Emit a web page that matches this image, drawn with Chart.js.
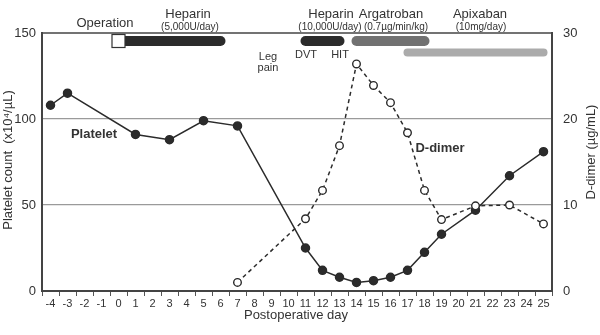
<!DOCTYPE html>
<html>
<head>
<meta charset="utf-8">
<script src="https://cdn.jsdelivr.net/npm/chart.js@4.4.1/dist/chart.umd.min.js"></script>
<style>
  html, body { margin: 0; padding: 0; background: #fff; }
  #wrap { width: 600px; height: 335px; position: relative; }
</style>
</head>
<body>
<div id="wrap"><canvas id="chart"></canvas></div>
<script>
// postoperative days on the x axis
const dayLabels = [];
for (let d = -4; d <= 25; d++) dayLabels.push(String(d));

// platelet count (x10^4/uL)
const plateletDays = [-4, -3, 1, 3, 5, 7, 11, 12, 13, 14, 15, 16, 17, 18, 19, 21, 23, 25];
const plateletValues = [108, 115, 91, 88, 99, 96, 25, 12, 8, 5, 6, 8, 12, 22.5, 33, 47, 67, 81];

// D-dimer (ug/mL)
const ddimerDays = [7, 11, 12, 13, 14, 15, 16, 17, 18, 19, 21, 23, 25];
const ddimerValues = [1, 8.4, 11.7, 16.9, 26.4, 23.9, 21.9, 18.4, 11.7, 8.3, 9.9, 10, 7.8];

// treatment periods (start day, end day)
const operationDay = 0;
const heparinLow = [0, 6];
const heparinHigh = [11, 13];
const argatroban = [14, 18];
const apixaban = [17, 25];

const leftTicks = [0, 50, 100, 150];
const rightTicks = [0, 10, 20, 30];

const FONT = '"Liberation Sans", Arial, sans-serif';
const TEXT = '#333';

function toPoints(days, vals) {
    return days.map((d, i) => ({ x: String(d), y: vals[i] }));
}

const annotations = {
    id: 'annotations',
    afterDatasetsDraw(chart) {
        const ctx = chart.ctx;
        const x = chart.scales.x;
        const area = chart.chartArea;
        const px = d => x.getPixelForValue(dayLabels.indexOf(String(d)));

        ctx.save();
        // top frame line
        ctx.strokeStyle = '#444';
        ctx.lineWidth = 1.5;
        ctx.beginPath();
        ctx.moveTo(area.left, area.top);
        ctx.lineTo(area.right, area.top);
        ctx.stroke();

        // drug bars
        function bar(range, y, w, color) {
            ctx.strokeStyle = color;
            ctx.lineWidth = w;
            ctx.lineCap = 'round';
            ctx.beginPath();
            ctx.moveTo(px(range[0]), y);
            ctx.lineTo(px(range[1]), y);
            ctx.stroke();
        }
        bar(heparinLow, 41, 10, '#2b2b2b');
        bar(heparinHigh, 41, 10, '#2b2b2b');
        bar(argatroban, 41, 10, '#717171');
        bar(apixaban, 52.5, 8, '#ababab');

        // operation box
        const ox = px(operationDay);
        ctx.fillStyle = '#fff';
        ctx.strokeStyle = '#333';
        ctx.lineWidth = 1.2;
        ctx.fillRect(ox - 6.5, 34.5, 13, 13);
        ctx.strokeRect(ox - 6.5, 34.5, 13, 13);

        // labels
        ctx.fillStyle = TEXT;
        ctx.textAlign = 'center';
        ctx.textBaseline = 'middle';
        function txt(s, tx, ty, size, weight) {
            ctx.font = (weight || '') + ' ' + size + 'px ' + FONT;
            ctx.fillText(s, tx, ty);
        }
        txt('Operation', 105, 23, 13);
        txt('Heparin', 188, 14, 13);
        txt('(5,000U/day)', 190, 27, 10);
        txt('Heparin', 331, 14, 13);
        txt('(10,000U/day)', 330, 27, 10);
        txt('Argatroban', 391, 14, 13);
        txt('(0.7\u00b5g/min/kg)', 396, 27, 10);
        txt('Apixaban', 480, 14, 13);
        txt('(10mg/day)', 481, 27, 10);
        txt('Leg', 268, 57, 11);
        txt('pain', 268, 68, 11);
        txt('DVT', 306, 55, 11);
        txt('HIT', 340, 55, 11);
        txt('Platelet', 94, 134, 13, 'bold');
        txt('D-dimer', 440, 148, 13, 'bold');
        txt('Postoperative day', 296, 315, 13);

        // axis titles
        ctx.save();
        ctx.translate(8, 160);
        ctx.rotate(-Math.PI / 2);
        txt('Platelet count  (x10\u2074/\u00b5L)', 0, 0, 13);
        ctx.restore();
        ctx.save();
        ctx.translate(591, 152);
        ctx.rotate(-Math.PI / 2);
        txt('D-dimer (\u00b5g/mL)', 0, 0, 13);
        ctx.restore();

        ctx.restore();
    }
};

new Chart(document.getElementById('chart'), {
    type: 'line',
    data: {
        labels: dayLabels,
        datasets: [{
            label: 'D-dimer',
            data: toPoints(ddimerDays, ddimerValues),
            yAxisID: 'y2',
            borderColor: '#2b2b2b',
            borderWidth: 1.5,
            borderDash: [4, 3.5],
            pointRadius: 3.8,
            pointBackgroundColor: '#fff',
            pointBorderColor: '#2b2b2b',
            pointBorderWidth: 1.4,
            tension: 0
        }, {
            label: 'Platelet',
            data: toPoints(plateletDays, plateletValues),
            yAxisID: 'y',
            borderColor: '#2b2b2b',
            borderWidth: 1.5,
            pointRadius: 4,
            pointBackgroundColor: '#2b2b2b',
            pointBorderColor: '#2b2b2b',
            tension: 0
        }]
    },
    options: {
        responsive: true,
        maintainAspectRatio: false,
        animation: false,
        layout: { padding: { top: 33, left: 0, right: 0, bottom: 0 } },
        plugins: {
            legend: { display: false },
            tooltip: { enabled: false }
        },
        scales: {
            x: {
                type: 'category',
                offset: true,
                grid: { offset: true, drawOnChartArea: false, drawTicks: true, tickLength: 5, color: '#555', lineWidth: 1 },
                border: { display: true, color: '#444', width: 2 },
                ticks: { color: TEXT, font: { family: FONT, size: 11 }, padding: 1, maxRotation: 0, autoSkip: false },
                afterFit: s => { s.height = 44; }
            },
            y: {
                position: 'left',
                min: 0,
                max: 150,
                afterBuildTicks: s => { s.ticks = leftTicks.map(v => ({ value: v })); },
                grid: {
                    drawTicks: false,
                    color: c => (c.tick && (c.tick.value === 50 || c.tick.value === 100)) ? '#9a9a9a' : 'rgba(0,0,0,0)',
                    lineWidth: 1.2
                },
                border: { display: true, color: '#444', width: 2 },
                ticks: { color: TEXT, font: { family: FONT, size: 13 }, padding: 6 },
                afterFit: s => { s.width = 42; }
            },
            y2: {
                position: 'right',
                min: 0,
                max: 30,
                afterBuildTicks: s => { s.ticks = rightTicks.map(v => ({ value: v })); },
                grid: { drawOnChartArea: false, drawTicks: false },
                border: { display: true, color: '#444', width: 2 },
                ticks: { color: TEXT, font: { family: FONT, size: 13 }, padding: 11 },
                afterFit: s => { s.width = 48; }
            }
        }
    },
    plugins: [annotations]
});
</script>
</body>
</html>
